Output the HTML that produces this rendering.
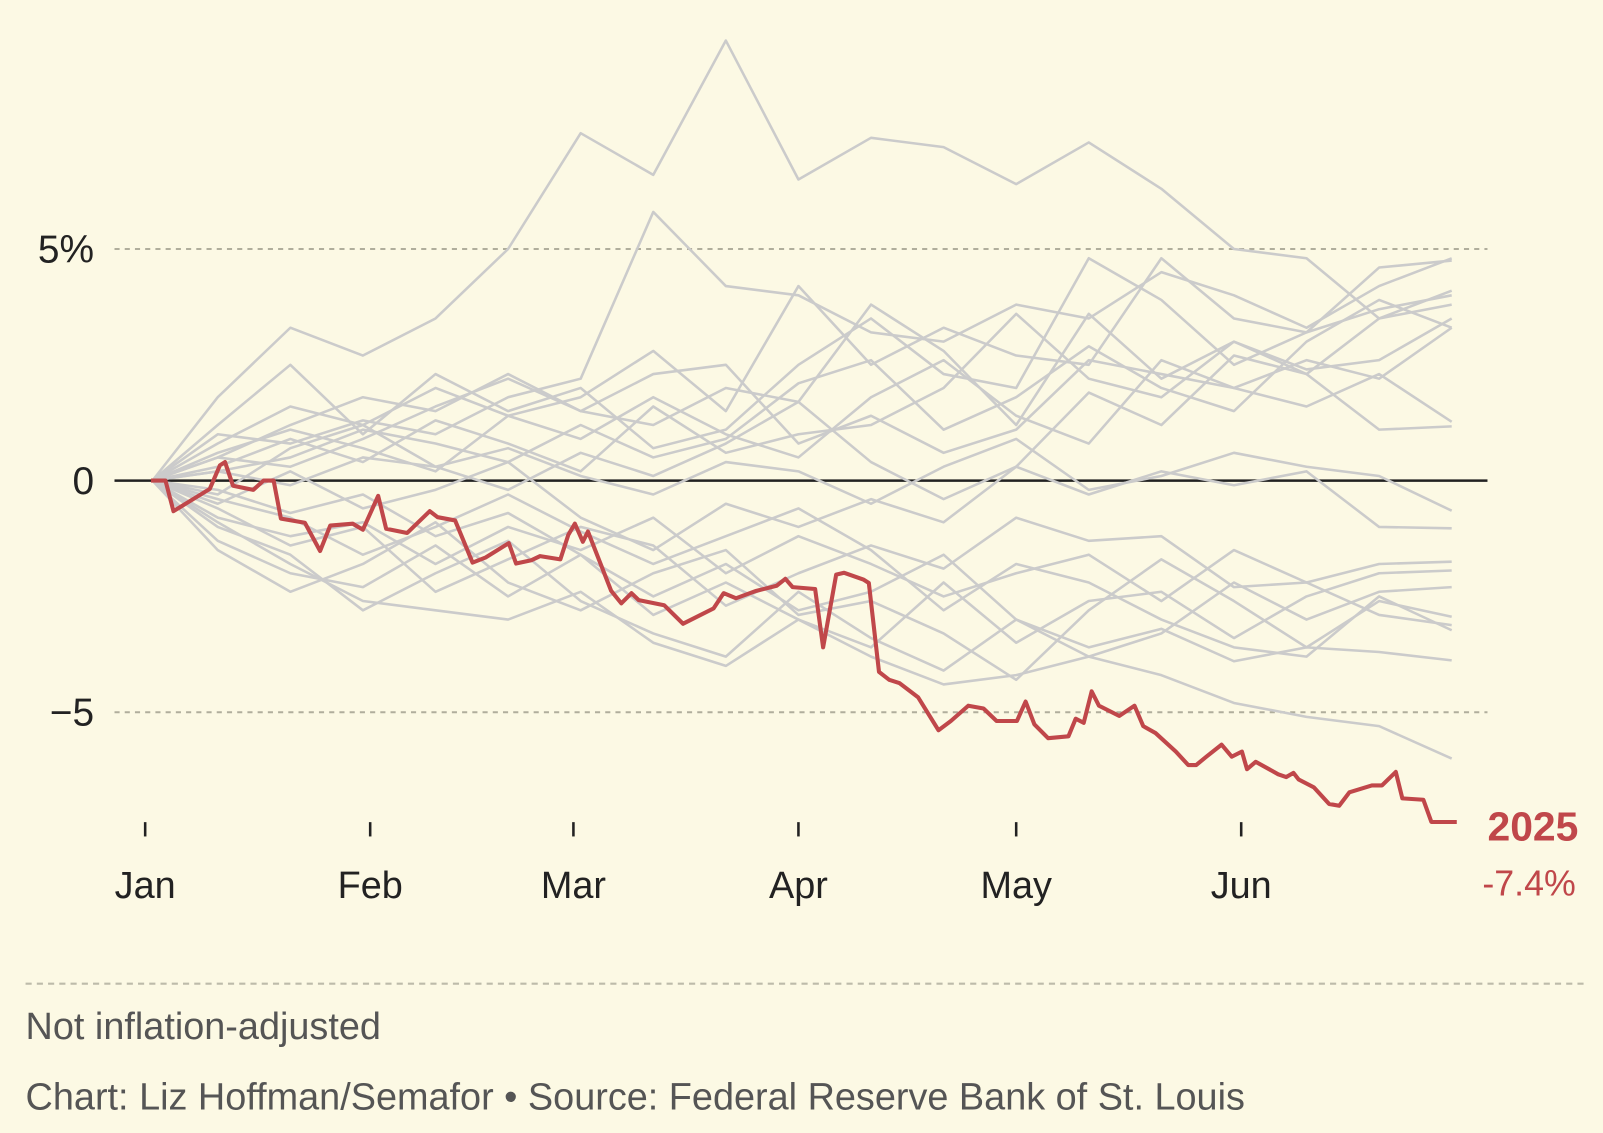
<!DOCTYPE html>
<html><head><meta charset="utf-8"><style>
html,body{margin:0;padding:0;background:#fcf9e4;overflow:hidden}
#wrap{width:1568px;height:1108px;transform:scale(1.02232,1.02256);transform-origin:0 0;position:relative;font-family:"Liberation Sans",sans-serif}
.t{position:absolute;white-space:nowrap}
</style></head><body>
<div id="wrap">
<svg id="chart" width="1568" height="1108"></svg>
<div class="t" style="left:25px;top:983px;font-size:37px;color:#555">Not inflation-adjusted</div>
<div class="t" style="left:25px;top:1052px;font-size:37px;color:#555">Chart: Liz Hoffman/Semafor • Source: Federal Reserve Bank of St. Louis</div>
</div>
<script>
const monthLabels=["Jan","Feb","Mar","Apr","May","Jun"];
const monthDays=[0,31,59,90,120,151];
const yTicks=[5,0,-5];
const yTickLabels=["5%","0","−5"];
const grayDays=[1,10,20,30,40,50,60,70,80,90,100,110,120,130,140,150,160,170,180];
const g1=[0,1.8,3.3,2.7,3.5,5.0,7.5,6.6,9.5,6.5,7.4,7.2,6.4,7.3,6.3,5.0,4.8,3.5,3.8];
const g2=[0,1.0,0.8,1.3,1.0,1.8,2.2,5.8,4.2,4.0,3.2,3.0,3.8,3.5,4.5,4.0,3.3,4.2,4.8];
const g3=[0,0.8,1.6,1.2,2.0,1.4,1.8,2.8,1.5,4.2,2.5,3.3,2.7,2.5,4.8,3.5,3.2,4.6,4.75];
const g4=[0,0.5,1.2,1.8,1.5,2.3,1.5,1.2,2.0,1.7,3.8,2.8,1.2,3.6,2.2,3.0,2.3,3.5,4.1];
const g5=[0,1.2,2.5,1.0,2.3,1.5,2.0,0.7,1.1,2.5,3.5,2.3,2.0,4.8,3.9,2.5,3.2,3.7,4.0];
const g6=[0,0.3,0.9,0.4,1.3,0.8,0.2,1.6,0.6,1.0,1.2,2.0,3.6,2.2,1.8,3.0,2.4,2.6,3.5];
const g7=[0,0.2,0.5,1.1,0.8,0.4,1.2,0.5,0.9,2.1,2.6,1.1,1.8,2.9,2.0,1.5,3.0,3.9,3.3];
const g8=[0,0.6,1.1,0.7,0.2,1.4,0.9,1.8,1.0,0.5,1.8,2.6,1.4,0.8,2.6,2.0,1.6,2.3,1.27];
const g9=[0,-0.3,0.7,1.2,0.3,-0.2,0.6,0.1,0.8,1.7,0.4,-0.4,0.3,1.9,1.2,2.7,2.3,1.1,1.17];
const g10=[0,0.2,-0.1,0.5,0.3,0.7,0.1,-0.3,0.4,0.2,-0.5,0.3,0.9,-0.2,0.1,0.6,0.3,0.1,-0.65];
const g11=[0,-0.5,0.2,-0.6,-0.2,0.4,-0.8,-1.5,-0.5,-1.0,-0.4,-0.9,0.3,-0.3,0.2,-0.1,0.2,-1.0,-1.03];
const g12=[0,-0.8,-1.2,-0.9,-1.8,-1.0,-1.5,-0.8,-2.0,-1.2,-1.8,-2.5,-2.0,-1.6,-2.6,-1.5,-2.2,-1.8,-1.75];
const g13=[0,-1.3,-2.0,-2.3,-1.4,-2.5,-1.6,-2.9,-2.2,-3.0,-3.6,-2.2,-3.5,-2.6,-2.4,-3.4,-2.5,-2.0,-1.94];
const g14=[0,-1.0,-1.6,-2.8,-2.0,-1.3,-2.6,-3.3,-3.8,-2.4,-3.4,-4.1,-3.0,-3.8,-3.3,-2.2,-3.0,-2.4,-2.3];
const g15=[0,-1.5,-2.4,-1.8,-0.9,-2.2,-2.8,-2.0,-1.5,-2.9,-2.6,-3.3,-4.3,-2.8,-1.7,-2.6,-3.6,-2.6,-2.94];
const g16=[0,-0.6,-1.4,-1.0,-2.4,-1.7,-1.0,-1.4,-2.7,-2.0,-1.4,-1.9,-0.8,-1.3,-1.2,-2.3,-2.2,-2.9,-3.12];
const g17=[0,-0.4,-0.8,-1.6,-1.0,-0.3,-1.1,-1.8,-1.2,-0.6,-1.5,-2.8,-1.8,-2.2,-3.0,-3.6,-3.8,-2.5,-3.23];
const g18=[0,-0.9,-1.8,-2.6,-2.8,-3.0,-2.4,-3.5,-4.0,-3.0,-3.8,-4.4,-4.2,-3.8,-4.2,-4.8,-5.1,-5.3,-6.0];
const g19=[0,-0.2,-0.7,-0.3,-1.2,-0.7,-1.6,-2.5,-1.8,-2.8,-2.4,-1.6,-3.0,-3.6,-3.2,-3.9,-3.6,-3.7,-3.88];
const g20=[0,0.5,0.3,0.9,1.6,2.2,1.5,2.3,2.5,0.8,1.4,0.6,1.1,2.6,2.3,2.0,2.6,2.2,3.3];
const graySeries=[g1,g2,g3,g4,g5,g6,g7,g8,g9,g10,g11,g12,g13,g14,g15,g16,g17,g18,g19,g20];
const redDays=[0.8,2.8,3.9,8.9,10.3,11,12.1,14.9,16.3,17.7,18.7,22,24.1,25.5,28.6,30,32.1,33.2,36.1,39.2,40.3,42.7,45.1,46.9,50.1,51.1,53.2,54.4,57.2,58.3,59.2,60.3,61,62.4,64.2,65.6,67,68,71.5,74.1,78.3,79.7,81.4,84.2,87,88.2,89.2,92.3,93.4,95.2,96.3,99,99.7,101.1,102.5,103.9,106.5,109.3,111,113.4,115.5,117.3,120.1,121.3,122.5,124.4,127.2,128.2,129.3,130.4,131.4,134.2,136.3,137.5,139.2,142,143.7,144.8,146.2,148.3,149.7,151.1,151.8,153,156.1,157.2,158.2,158.9,161,163.1,164.5,165.9,169,170.4,172.3,173.2,176.1,177.2,180.7];
const redValues=[0,0,-0.66,-0.18,0.33,0.4,-0.11,-0.2,0,0,-0.82,-0.91,-1.52,-0.97,-0.93,-1.06,-0.33,-1.04,-1.13,-0.66,-0.79,-0.86,-1.77,-1.66,-1.35,-1.79,-1.72,-1.63,-1.7,-1.17,-0.93,-1.32,-1.1,-1.66,-2.38,-2.65,-2.43,-2.58,-2.69,-3.09,-2.76,-2.43,-2.54,-2.38,-2.27,-2.12,-2.3,-2.34,-3.6,-2.03,-1.99,-2.14,-2.21,-4.13,-4.3,-4.37,-4.68,-5.39,-5.19,-4.86,-4.92,-5.19,-5.19,-4.77,-5.26,-5.56,-5.52,-5.14,-5.23,-4.55,-4.86,-5.08,-4.86,-5.3,-5.45,-5.85,-6.14,-6.14,-5.96,-5.7,-5.96,-5.85,-6.23,-6.07,-6.34,-6.4,-6.31,-6.45,-6.62,-6.98,-7.02,-6.73,-6.58,-6.58,-6.29,-6.86,-6.89,-7.37,-7.37];
const finalLabel="2025";
const finalValue="-7.4%";

const NS="http://www.w3.org/2000/svg";
const svg=document.getElementById('chart');
const X=d=>142+d*7.1;
const Y=v=>470-v*45.3;
function mk(tag,attrs){const e=document.createElementNS(NS,tag);for(const k in attrs)e.setAttribute(k,attrs[k]);svg.appendChild(e);return e;}
yTicks.forEach((t,i)=>{
  const l=mk('line',{x1:112,x2:1455,y1:Y(t),y2:Y(t),stroke:t===0?'#222':'#b0ae9c','stroke-width':t===0?2.5:2,'stroke-dasharray':t===0?'none':'5 5'});
  
  
  const tx=mk('text',{x:92,y:Y(t)+13,'text-anchor':'end','font-size':38,fill:'#222','font-family':'Liberation Sans, sans-serif'});
  tx.textContent=yTickLabels[i];
  
  
});
monthDays.forEach((d,i)=>{
  const l=mk('line',{x1:X(d),x2:X(d),y1:804,y2:818,stroke:'#222','stroke-width':2.5});
  
  
  const tx=mk('text',{x:X(d),y:878,'text-anchor':'middle','font-size':37,fill:'#222','font-family':'Liberation Sans, sans-serif'});
  tx.textContent=monthLabels[i];
  
  
});
graySeries.forEach(s=>{
  const p=mk('polyline',{points:s.map((v,i)=>X(grayDays[i])+','+Y(v)).join(' '),fill:'none',stroke:'#cbcbcb','stroke-width':2.5,'stroke-linejoin':'round'});
  
  
});
const r=mk('polyline',{points:redValues.map((v,i)=>X(redDays[i])+','+Y(v)).join(' '),fill:'none',stroke:'#c0474a','stroke-width':4,'stroke-linejoin':'round'});


const lastY=Y(redValues[redValues.length-1]);
const t1=mk('text',{x:1455,y:lastY+18,'font-size':40,'font-weight':'bold',fill:'#c0474a','font-family':'Liberation Sans, sans-serif'});
t1.textContent=finalLabel;


const t2=mk('text',{x:1450,y:lastY+72,'font-size':35,fill:'#c0474a','font-family':'Liberation Sans, sans-serif'});
t2.textContent=finalValue;


const f=mk('line',{x1:25,x2:1550,y1:962,y2:962,stroke:'#bdbbaa','stroke-width':2,'stroke-dasharray':'6 5'});


</script>
</body></html>
